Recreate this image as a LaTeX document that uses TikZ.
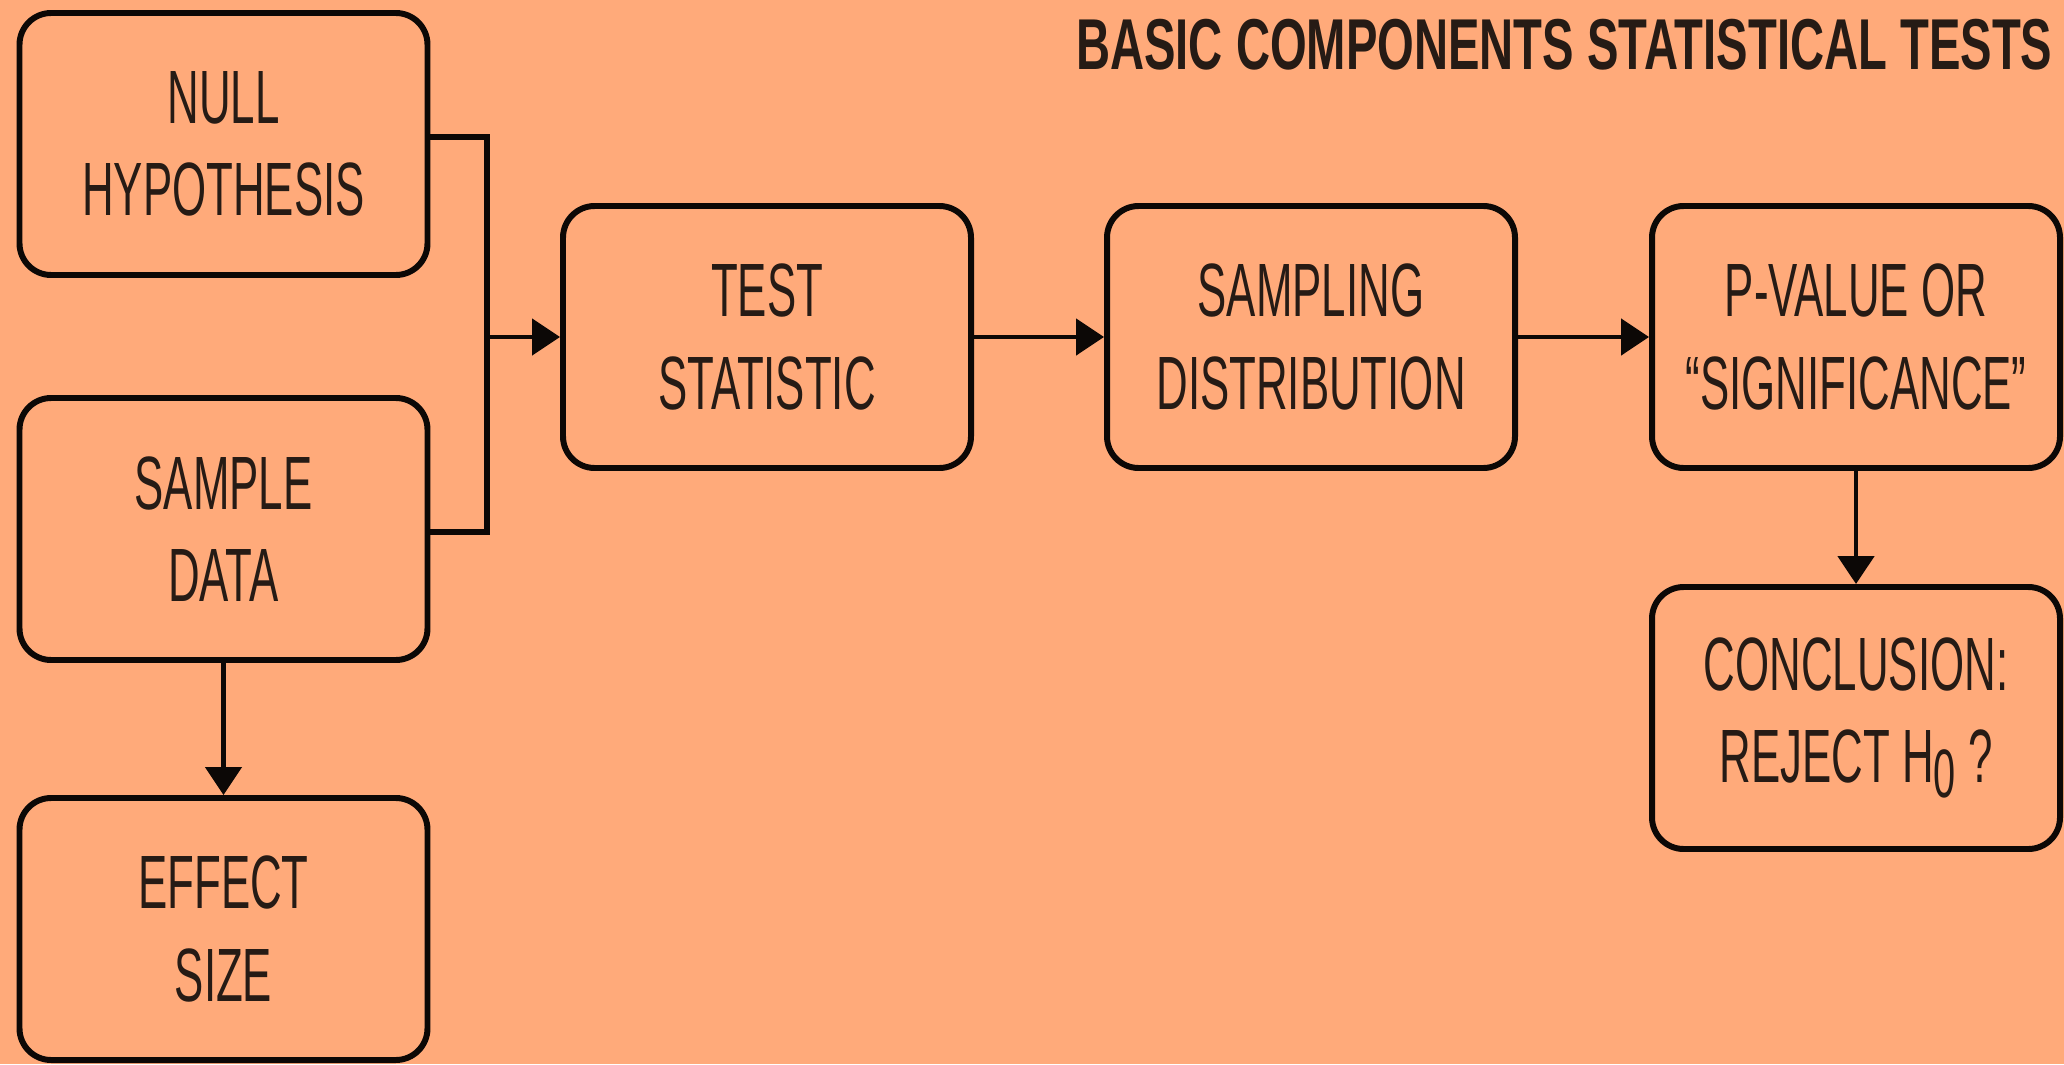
\documentclass[tikz,border=0pt]{standalone}
\usepackage{fontspec}
\usepackage{tikz}
\usetikzlibrary{arrows.meta,positioning,calc}
\newfontfamily\boxfont{Liberation Sans}[FakeStretch=0.58]
\newfontfamily\titlefont{Liberation Sans}[FakeStretch=0.655]
\definecolor{peach}{RGB}{255,170,122}
\definecolor{inkdark}{RGB}{38,27,21}
\definecolor{edgedark}{RGB}{12,8,6}

\begin{document}
\begin{tikzpicture}[
    box/.style={rectangle, draw=edgedark, fill=peach, rounded corners=9pt, line width=1.7pt,
                minimum width=4.08cm, minimum height=2.62cm, align=center, text=inkdark,
                font=\boxfont\fontsize{21.5}{26.2}\selectfont, inner sep=0pt},
    link/.style={line width=1.5pt, edgedark},
    arr/.style={-{Triangle[length=2.8mm, width=3.6mm]}, line width=1.4pt, edgedark}
]
    \fill[peach] (0,0) rectangle (20.64,10.64);
    \useasboundingbox (0,0) rectangle (20.64,10.64);

    \node[anchor=north east, inner sep=0pt, text=inkdark, font=\titlefont\bfseries\fontsize{20.5}{24}\selectfont]
        (title) at (20.53,10.46) {BASIC COMPONENTS STATISTICAL TESTS};

    \node[box] (null) at (2.235,9.20) {NULL\\HYPOTHESIS};
    \node[box] (sample) at (2.235,5.35) {SAMPLE\\DATA};
    \node[box] (effect) at (2.235,1.35) {EFFECT\\SIZE};
    \node[box] (test) at (7.67,7.27) {TEST\\STATISTIC};
    \node[box] (sampling) at (13.11,7.27) {SAMPLING\\DISTRIBUTION};
    \node[box] (pvalue) at (18.56,7.27) {P-VALUE OR\\“SIGNIFICANCE”};
    \node[box] (concl) at (18.56,3.46)
        {CONCLUSION:\\REJECT H\raisebox{-1.5mm}{\fontsize{19.5}{19.5}\selectfont 0} ?};

    \coordinate (merge) at (4.87,7.27);
    \draw[link] ([yshift=0.7mm]null.east) -| (merge) |- ([yshift=-0.3mm]sample.east);
    \draw[arr] (merge) -- (test.west);
    \draw[arr] (test) -- (sampling);
    \draw[arr] (sampling) -- (pvalue);
    \draw[arr] (pvalue) -- (concl);
    \draw[arr] (sample) -- (effect);
\end{tikzpicture}
\end{document}
